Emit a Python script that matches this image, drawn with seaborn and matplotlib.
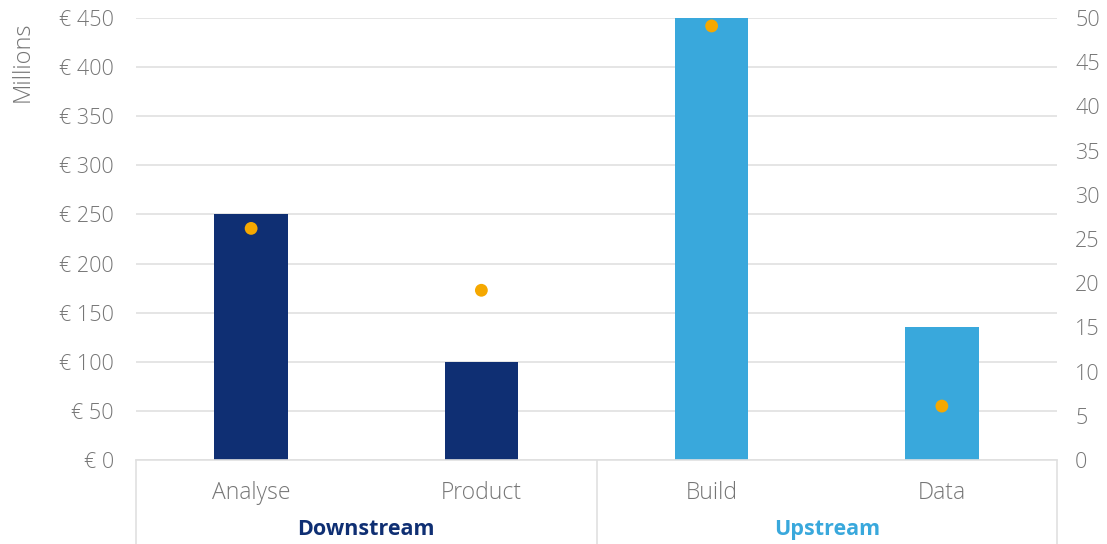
import matplotlib.pyplot as plt
import pandas as pd
import seaborn as sns

# chart data
categories = ["Analyse", "Product", "Build", "Data"]
groups = ["Downstream", "Downstream", "Upstream", "Upstream"]
spend_millions = [250, 100, 450, 135]
right_values = [26.2, 19.2, 49.1, 6.1]
left_ticks = list(range(0, 451, 50))
right_ticks = list(range(0, 51, 5))

NAVY = "#0F2F73"
LIGHT_BLUE = "#39A8DC"
ORANGE = "#F5A800"
GREY = "#767676"
GRID = "#E0E0E0"

df = pd.DataFrame(
    {"category": categories, "group": groups, "spend": spend_millions, "right": right_values}
)

sns.set_theme(style="white")
plt.rcParams["font.family"] = ["Open Sans", "DejaVu Sans"]
W = 300  # label weight

fig = plt.figure(figsize=(11.07, 5.44), dpi=100)
ax = fig.add_axes([136 / 1107, 84 / 544, 921 / 1107, 442 / 544])

sns.barplot(
    data=df,
    x="category",
    y="spend",
    hue="group",
    palette={"Downstream": NAVY, "Upstream": LIGHT_BLUE},
    saturation=1,
    dodge=False,
    width=0.32,
    linewidth=0,
    legend=False,
    ax=ax,
    zorder=2,
)
ax.set_ylim(0, 450)
ax.set_xlim(-0.5, 3.5)
ax.set_yticks(left_ticks)
ax.set_yticklabels([f"€ {v}" for v in left_ticks], color=GREY, fontsize=15.5, fontweight=W)
ax.yaxis.grid(True, color=GRID, linewidth=1.2, zorder=0)
ax.set_axisbelow(True)
ax.tick_params(axis="y", length=0, pad=16)
ax.tick_params(axis="x", length=0, pad=15)
ax.set_xticklabels(categories, color=GREY, fontsize=16.5, fontweight=W)
ax.set_xlabel("")
ax.set_ylabel("Millions", color=GREY, fontsize=17, fontweight=W)
ax.yaxis.set_label_coords(-0.11, 0.9)
for side in ["top", "left", "right"]:
    ax.spines[side].set_visible(False)
ax.spines["bottom"].set_color(GRID)
ax.spines["bottom"].set_linewidth(1.2)

ax2 = ax.twinx()
sns.scatterplot(
    data=df, x="category", y="right", color=ORANGE, s=85, edgecolor="none", ax=ax2, zorder=3
)
ax2.set_ylim(0, 50)
ax2.set_yticks(right_ticks)
ax2.set_yticklabels([str(v) for v in right_ticks], color=GREY, fontsize=15.5, fontweight=W)
ax2.tick_params(axis="y", length=0, pad=13)
ax2.set_ylabel("")
for side in ax2.spines:
    ax2.spines[side].set_visible(False)

# group brackets below the axis
trans = ax.get_xaxis_transform()
for xpos in [-0.5, 1.5, 3.5]:
    ax.plot([xpos, xpos], [0, -0.2], transform=trans, color=GRID, linewidth=1.2, clip_on=False)
ax.text(0.5, -0.157, "Downstream", transform=trans, ha="center", va="center",
        fontsize=15.5, fontweight="bold", color=NAVY)
ax.text(2.5, -0.157, "Upstream", transform=trans, ha="center", va="center",
        fontsize=15.5, fontweight="bold", color=LIGHT_BLUE)

fig.savefig("out.png", dpi=100)
